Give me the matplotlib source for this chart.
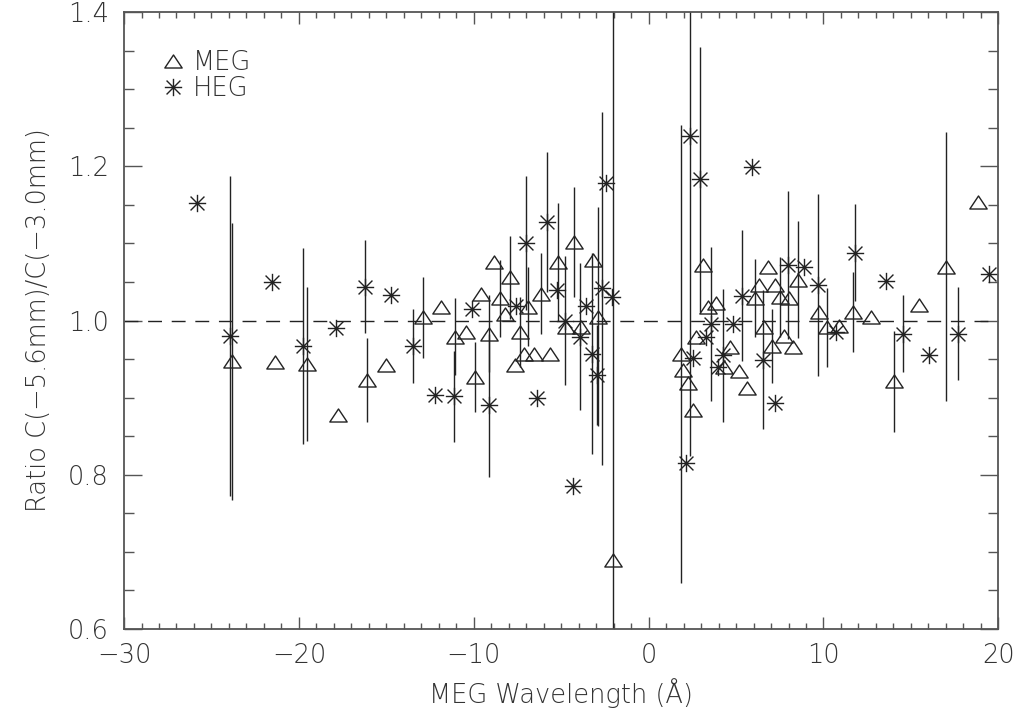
import numpy as np
import matplotlib
matplotlib.use("Agg")
import matplotlib.pyplot as plt
from matplotlib.path import Path
from matplotlib.ticker import MultipleLocator, FormatStrFormatter

# MEG points (wavelength, ratio, error; 0 = no error bar drawn)
meg_x = [-23.85, -21.37, -19.53, -17.75, -16.13, -14.99, -12.93, -11.85, -11.09, -10.42,
         -9.94, -9.56, -9.13, -8.82, -8.51, -8.23, -7.94, -7.66, -7.37, -7.13,
         -6.90, -6.53, -6.17, -5.66, -5.18, -4.70, -4.27, -3.86, -3.18, -2.90,
         -2.04, 1.83, 1.96, 2.25, 2.53, 2.72, 3.10, 3.39, 3.83, 4.29,
         4.63, 5.14, 5.64, 6.06, 6.30, 6.57, 6.82, 7.07, 7.20, 7.49,
         7.77, 8.02, 8.25, 8.53, 9.77, 10.21, 10.91, 11.67, 12.72, 14.02,
         15.45, 17.01, 18.82]
meg_y = [0.947, 0.946, 0.944, 0.877, 0.923, 0.942, 1.004, 1.018, 0.979, 0.985,
         0.927, 1.034, 0.983, 1.076, 1.029, 1.009, 1.056, 0.942, 0.985, 0.957,
         1.018, 0.957, 1.035, 0.957, 1.076, 0.992, 1.102, 0.992, 1.078, 1.005,
         0.689, 0.957, 0.936, 0.919, 0.884, 0.979, 1.072, 1.018, 1.023, 0.940,
         0.966, 0.934, 0.912, 1.029, 1.046, 0.992, 1.070, 0.967, 1.046, 1.030,
         0.980, 1.029, 0.966, 1.053, 1.011, 0.991, 0.993, 1.011, 1.004, 0.921,
         1.020, 1.070, 1.154]
meg_err = [0.180, 0, 0.100, 0, 0.054, 0, 0.053, 0, 0.050, 0,
           0.045, 0, 0.050, 0, 0.050, 0, 0.054, 0, 0.045, 0,
           0.051, 0, 0.052, 0, 0.077, 0, 0.071, 0, 0, 0.142,
           0.750, 0.297, 0, 0, 0, 0, 0, 0, 0, 0,
           0, 0, 0, 0.051, 0, 0, 0, 0.048, 0, 0.052,
           0, 0, 0, 0.076, 0, 0.051, 0, 0.052, 0, 0.066,
           0, 0.174, 0]

# HEG points
heg_x = [-25.85, -23.96, -21.56, -19.79, -17.85, -16.20, -14.76, -13.45, -12.23, -11.12,
         -10.10, -9.13, -7.60, -7.03, -6.40, -5.79, -5.24, -4.76, -4.32, -3.94,
         -3.56, -3.22, -2.94, -2.65, -2.44, -2.08, 2.11, 2.38, 2.53, 2.91,
         3.29, 3.55, 3.96, 4.25, 4.82, 5.35, 5.92, 6.53, 7.20, 7.96,
         8.86, 9.67, 10.72, 11.79, 13.60, 14.57, 16.06, 17.68, 19.49]
heg_y = [1.153, 0.980, 1.050, 0.967, 0.990, 1.044, 1.033, 0.967, 0.903, 0.902,
         1.015, 0.890, 1.019, 1.101, 0.899, 1.128, 1.040, 1.000, 0.785, 0.979,
         1.019, 0.957, 0.929, 1.042, 1.178, 1.030, 0.815, 1.239, 0.952, 1.183,
         0.979, 0.995, 0.940, 0.955, 0.995, 1.032, 1.199, 0.949, 0.893, 1.072,
         1.070, 1.046, 0.985, 1.088, 1.051, 0.983, 0.955, 0.983, 1.060]
heg_err = [0, 0.207, 0, 0.127, 0, 0.060, 0, 0.048, 0, 0.059,
           0, 0.093, 0, 0.087, 0, 0.091, 0, 0.084, 0, 0.095,
           0, 0.130, 0.065, 0.229, 0, 0, 0, 0.415, 0, 0.172,
           0, 0.100, 0, 0.086, 0, 0.085, 0, 0.090, 0, 0.096,
           0, 0.118, 0, 0.063, 0, 0.050, 0, 0.060, 0]

ink = "#222222"
axis_col = "#555555"
text_col = "#333333"

# IDL-like asterisk: horizontal, vertical and two diagonals
star = Path([(-1, 0), (1, 0), (0, -1), (0, 1),
             (-0.8, -0.8), (0.8, 0.8), (-0.8, 0.8), (0.8, -0.8)],
            [Path.MOVETO, Path.LINETO] * 4)
# wide open triangle
tri = Path([(0, 0.75), (-1, -0.75), (1, -0.75), (0, 0.75)],
           [Path.MOVETO, Path.LINETO, Path.LINETO, Path.CLOSEPOLY])

plt.rcParams["font.family"] = ["DejaVu Sans"]
plt.rcParams["font.weight"] = "light"
plt.rcParams["axes.labelweight"] = "light"

fig = plt.figure(figsize=(10.25, 7.16), dpi=100)
ax = fig.add_axes([0.121, 0.1215, 0.853, 0.8617])

# error bars
ax.errorbar(meg_x, meg_y, yerr=meg_err, fmt="none", ecolor=ink, elinewidth=1.0, capsize=0)
ax.errorbar(heg_x, heg_y, yerr=heg_err, fmt="none", ecolor=ink, elinewidth=1.0, capsize=0)

# markers
ax.plot(meg_x, meg_y, linestyle="none", marker=tri, markersize=12.5,
        markerfacecolor="none", markeredgecolor=ink, markeredgewidth=1.0, label="MEG")
ax.plot(heg_x, heg_y, linestyle="none", marker=star, markersize=12.5,
        markerfacecolor="none", markeredgecolor=ink, markeredgewidth=1.0, label="HEG")

# reference line at ratio 1
ax.axhline(1.0, color=ink, linewidth=1.0, dashes=(10, 7))

ax.set_xlim(-30, 20)
ax.set_ylim(0.6, 1.4)
ax.xaxis.set_major_locator(MultipleLocator(10))
ax.xaxis.set_minor_locator(MultipleLocator(1))
ax.yaxis.set_major_locator(MultipleLocator(0.2))
ax.yaxis.set_minor_locator(MultipleLocator(0.05))
ax.yaxis.set_major_formatter(FormatStrFormatter("%.1f"))

ax.tick_params(axis="both", which="both", direction="in", top=True, right=True,
               colors=axis_col, labelcolor=text_col, labelsize=18.5, width=1.0)
ax.tick_params(axis="x", which="major", length=8.6, pad=10)
ax.tick_params(axis="x", which="minor", length=4.3)
ax.tick_params(axis="y", which="major", length=13, pad=11)
ax.tick_params(axis="y", which="minor", length=7)

for spine in ax.spines.values():
    spine.set_color(axis_col)
    spine.set_linewidth(1.3)

ax.set_xlabel("MEG Wavelength (Å)", fontsize=18.5, color=text_col, labelpad=7)
ax.set_ylabel("Ratio C(\u22125.6mm)/C(\u22123.0mm)", fontsize=18.5, color=text_col, labelpad=12)

leg = ax.legend(loc="upper left", bbox_to_anchor=(0.03, 0.955), frameon=False,
                fontsize=18.5, handlelength=1.0, handletextpad=0.25, labelspacing=0.02,
                numpoints=1, borderaxespad=0)
for t in leg.get_texts():
    t.set_color(text_col)

fig.savefig("out.png", dpi=100, facecolor="white")
